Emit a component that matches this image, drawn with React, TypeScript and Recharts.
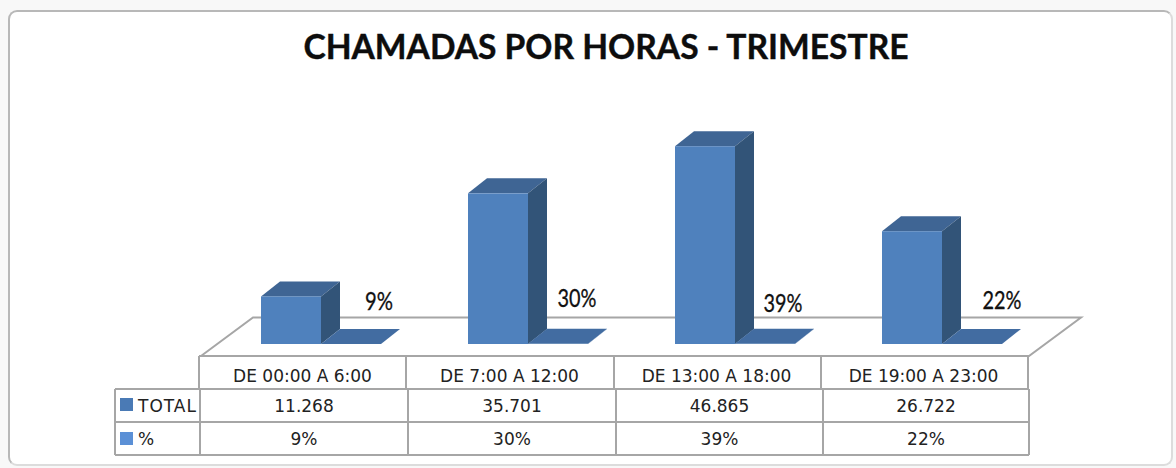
import { Bar, BarChart, LabelList, XAxis, YAxis } from "recharts";

const periods = ["DE 00:00 A 6:00", "DE 7:00 A 12:00", "DE 13:00 A 18:00", "DE 19:00 A 23:00"];
const totals = [11268, 35701, 46865, 26722];
const shares = [9, 30, 39, 22];
const totalCells = ["11.268", "35.701", "46.865", "26.722"];
const shareCells = ["9%", "30%", "39%", "22%"];

const data = periods.map((period, i) => ({ period, total: totals[i], share: shares[i] }));

// 3d look of the excel chart
const DEPTH_X = 19;
const DEPTH_Y = 15;
const LABEL_NUDGE_X = [0, -9, -10, 2];
const LABEL_NUDGE_Y = [0, -3, 2, -1];

const TABLE_FONT = "'DejaVu Sans', sans-serif";
const LINE = "#a6a6a6";

function Box({ x, y, width, height, front, top, side }: any) {
  const bottom = y + height;
  return (
    <g>
      <polygon
        points={`${x},${y} ${x + DEPTH_X},${y - DEPTH_Y} ${x + width + DEPTH_X},${y - DEPTH_Y} ${x + width},${y}`}
        fill={top}
      />
      <polygon
        points={`${x + width},${y} ${x + width + DEPTH_X},${y - DEPTH_Y} ${x + width + DEPTH_X},${bottom - DEPTH_Y} ${x + width},${bottom}`}
        fill={side}
      />
      <rect x={x} y={y} width={width} height={height} fill={front} />
    </g>
  );
}

function ShareLabel({ x, y, width, index }: any) {
  const label = shareCells[index];
  return (
    <text
      x={x + width / 2 + 28 + LABEL_NUDGE_X[index]}
      y={y - 34 + LABEL_NUDGE_Y[index]}
      textAnchor="middle"
      fontFamily="Lato, sans-serif"
      fontSize={25}
      stroke="#111"
      strokeWidth={0.3}
      fill="#111"
      textLength={label.length === 2 ? 28 : 39}
      lengthAdjust="spacingAndGlyphs"
    >
      {label}
    </text>
  );
}

function PeriodTick({ x, payload }: any) {
  return (
    <text x={x - 18} y={382} textAnchor="middle" fontFamily={TABLE_FONT} fontSize={17} fill="#222">
      {payload.value}
    </text>
  );
}

function Floor() {
  return (
    <polygon points="201,356 253,317.5 1081,317.5 1029,356" fill="#fff" stroke={LINE} strokeWidth={2} />
  );
}

function DataTable() {
  const headCols = [199, 406, 614, 821, 1028];
  const bodyCols = [200, 408, 616, 823, 1029];
  const rows = [389, 422, 455];
  const centers = bodyCols.slice(0, 4).map((c, i) => (c + bodyCols[i + 1]) / 2);
  return (
    <g fontFamily={TABLE_FONT} fontSize={17} fill="#222" textAnchor="middle">
      <g stroke={LINE} strokeWidth={2}>
        <line x1={199} x2={1029} y1={356} y2={356} />
        {headCols.map((c) => (
          <line key={c} x1={c} x2={c} y1={356} y2={389} />
        ))}
        {rows.map((r) => (
          <line key={r} x1={115} x2={1029} y1={r} y2={r} />
        ))}
        <line x1={115} x2={115} y1={389} y2={455} />
        {bodyCols.map((c) => (
          <line key={c} x1={c} x2={c} y1={389} y2={455} />
        ))}
      </g>
      <rect x={120} y={398} width={13} height={13} fill="#4a7ab5" />
      <rect x={120} y={432} width={13} height={13} fill="#5b90d6" />
      <text x={138} y={412} textAnchor="start" textLength={58}>TOTAL</text>
      <text x={138} y={445} textAnchor="start">%</text>
      {totalCells.map((t, i) => (
        <text key={t} x={centers[i]} y={412}>{t}</text>
      ))}
      {shareCells.map((t, i) => (
        <text key={t} x={centers[i]} y={445}>{t}</text>
      ))}
    </g>
  );
}

export default function App() {
  return (
    <div style={{ position: "absolute", left: 0, top: 0, width: 1176, height: 468, background: "#f8f8f8" }}>
      <div
        style={{
          position: "absolute",
          left: 8,
          top: 10,
          width: 1161,
          height: 452,
          background: "#fff",
          borderStyle: "solid",
          borderWidth: 2,
          borderColor: "#b8b8b8 #dcdcdc #dcdcdc #b8b8b8",
          borderRadius: 9,
        }}
      />
      <div
        style={{
          position: "absolute",
          left: 0,
          top: 18,
          width: 1212,
          textAlign: "center",
          fontFamily: "Lato, sans-serif",
          fontWeight: 700,
          fontSize: 33.6,
          lineHeight: "56px",
          color: "#0d0d0d",
          WebkitTextStroke: "0.4px #0d0d0d",
        }}
      >
        CHAMADAS POR HORAS - TRIMESTRE
      </div>
      <BarChart
        width={1176}
        height={468}
        data={data}
        barSize={60}
        barGap={0}
        margin={{ top: 133, right: 131, bottom: 0, left: 217 }}
        style={{ position: "absolute", left: 0, top: 0 }}
      >
        <Floor />
        <DataTable />
        <XAxis dataKey="period" height={124} axisLine={false} tickLine={false} tick={PeriodTick} interval={0} />
        <YAxis hide domain={[0, 50000]} />
        <Bar
          dataKey="total"
          isAnimationActive={false}
          shape={(p: any) => <Box {...p} front="#4f81bd" top="#3f6594" side="#325478" />}
        />
        <Bar
          dataKey="share"
          isAnimationActive={false}
          shape={(p: any) => <Box {...p} front="#4f81bd" top="#426ca1" side="#426ca1" />}
        >
          <LabelList dataKey="share" content={ShareLabel} />
        </Bar>
      </BarChart>
    </div>
  );
}
